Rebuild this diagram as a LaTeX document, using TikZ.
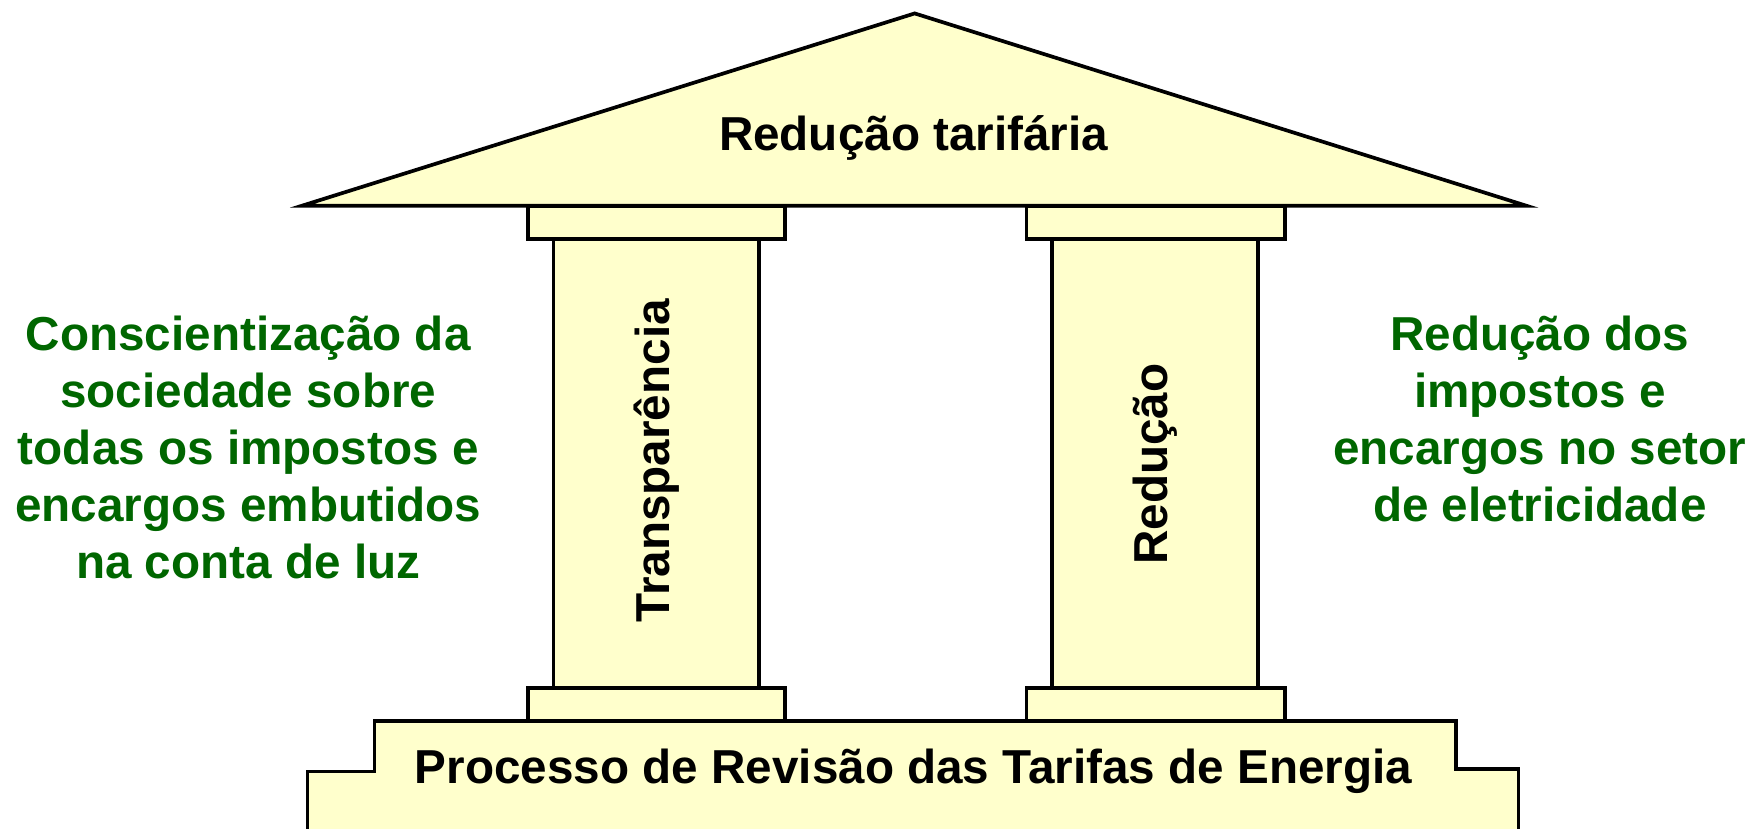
\documentclass[tikz,border=0pt]{standalone}
\usepackage{fontspec}
\setmainfont{Liberation Sans}
\definecolor{pillar}{HTML}{FFFFCC}
\definecolor{txtgreen}{HTML}{006600}
\begin{document}
\begin{tikzpicture}[x=1pt,y=-1pt,
  part/.style={fill=pillar,draw=black,line width=3.3pt,line join=miter},
  lbl/.style={font=\fontsize{42.6}{51}\selectfont\bfseries,inner sep=0pt},
  side/.style={lbl,text=txtgreen,align=center}]
\useasboundingbox (0,0) rectangle (1565,741);
% base platform
\filldraw[part] (275,745) -- (275,690) -- (335,690) -- (335,645) -- (1302,645) -- (1302,688) -- (1358,688) -- (1358,745);
% left column
\draw[part] (472,615) rectangle (702,645);
\draw[part] (495,214) rectangle (679,615);
\draw[part] (472,184) rectangle (702,214);
% right column
\draw[part] (918,615) rectangle (1149,645);
\draw[part] (941,214) rectangle (1125,615);
\draw[part] (918,184) rectangle (1149,214);
% roof
\draw[part] (818,12) -- (1365,184) -- (270,184) -- cycle;
% labels
\node[lbl] (roof) at (817,123) {Redução tarifária};
\node[lbl] (base) at (817,690) {Processo de Revisão das Tarifas de Energia};
\node[lbl,rotate=90] (colL) at (587,412) {Transparência};
\node[lbl,rotate=90] (colR) at (1033,415) {Redução};
\node[side] (left) at (222,400) {Conscientização da\\sociedade sobre\\todas os impostos e\\encargos embutidos\\na conta de luz};
\node[side] (right) at (1377,375) {Redução dos\\impostos e\\encargos no setor\\de eletricidade};
\end{tikzpicture}
\end{document}
